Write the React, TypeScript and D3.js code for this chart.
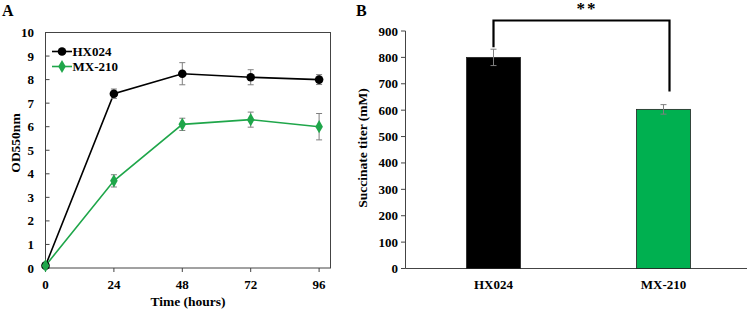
import React from "react";
import * as d3 from "d3";

const hours = [0, 24, 48, 72, 96];
const hxOD = [0.1, 7.4, 8.25, 8.1, 8.0];
const hxErr = [0.05, 0.2, 0.47, 0.32, 0.21];
const mxOD = [0.1, 3.7, 6.1, 6.3, 6.0];
const mxErr = [0.05, 0.26, 0.26, 0.32, 0.56];
const yTicksA = [0, 1, 2, 3, 4, 5, 6, 7, 8, 9, 10];

const strains = ["HX024", "MX-210"];
const titer = [800, 603];
const titerErr = [31, 18];
const yTicksB = [0, 100, 200, 300, 400, 500, 600, 700, 800, 900];

const BLACK = "#000000";
const GREEN = "#1FA64A";
const BARGREEN = "#00B050";
const FONT = "'Liberation Serif', 'Times New Roman', serif";

export default function App() {
  // Panel A
  const ax = d3.scaleLinear().domain([0, 100]).range([45.5, 330.5]);
  const ay = d3.scaleLinear().domain([0, 10]).range([268, 32.5]);
  const line = d3
    .line<number>()
    .x((_, i) => ax(hours[i]))
    .y((d) => ay(d));
  const diamond = d3.symbol().type(d3.symbolDiamond).size(50)();

  // Panel B
  const bx = d3.scaleBand().domain(strains).range([408.5, 748.5]).paddingInner(0).paddingOuter(0);
  const by = d3.scaleLinear().domain([0, 900]).range([268.5, 31]);
  const barW = 54;
  const colors = [BLACK, BARGREEN];
  const cx = (s: string) => (bx(s) as number) + bx.bandwidth() / 2;

  return (
    <svg width={750} height={312} style={{ display: "block", position: "absolute", left: 0, top: 0 }} fontFamily={FONT} fontWeight="bold">
      <rect width={750} height={312} fill="#fff" />
      {/* Panel A */}
      <text x={2} y={15.5} fontSize={16}>A</text>
      <rect x={ax(0)} y={ay(10)} width={ax(100) - ax(0)} height={ay(0) - ay(10)} fill="none" stroke="#444" strokeWidth={1} />
      {yTicksA.map((t) => (
        <g key={t}>
          <line x1={ax(0)} x2={ax(0) + 4} y1={ay(t)} y2={ay(t)} stroke="#444" />
          <text x={34} y={ay(t) + 4.5} fontSize={13} textAnchor="end">{t}</text>
        </g>
      ))}
      {hours.map((h) => (
        <g key={h}>
          <line x1={ax(h)} x2={ax(h)} y1={ay(0)} y2={ay(0) + 4} stroke="#444" />
          <text x={ax(h)} y={289} fontSize={13} textAnchor="middle">{h}</text>
        </g>
      ))}
      <text x={188} y={306} fontSize={13.5} textAnchor="middle">Time (hours)</text>
      <text transform={`translate(20,143) rotate(-90)`} fontSize={13.5} textAnchor="middle">OD550nm</text>

      <path d={line(hxOD) as string} fill="none" stroke={BLACK} strokeWidth={1.6} />
      <path d={line(mxOD) as string} fill="none" stroke={GREEN} strokeWidth={1.6} />
      {[
        { v: hxOD, e: hxErr },
        { v: mxOD, e: mxErr },
      ].map((s, si) =>
        s.v.map((v, i) => (
          <g key={`${si}-${i}`} stroke="#7f7f7f" strokeWidth={1}>
            <line x1={ax(hours[i])} x2={ax(hours[i])} y1={ay(v + s.e[i])} y2={ay(v - s.e[i])} />
            <line x1={ax(hours[i]) - 3} x2={ax(hours[i]) + 3} y1={ay(v + s.e[i])} y2={ay(v + s.e[i])} />
            <line x1={ax(hours[i]) - 3} x2={ax(hours[i]) + 3} y1={ay(v - s.e[i])} y2={ay(v - s.e[i])} />
          </g>
        ))
      )}
      {hxOD.map((v, i) => (
        <circle key={`h${i}`} cx={ax(hours[i])} cy={ay(v)} r={4.3} fill={BLACK} />
      ))}
      {mxOD.map((v, i) => (
        <path key={`m${i}`} d={diamond as string} transform={`translate(${ax(hours[i])},${ay(v)})`} fill={GREEN} />
      ))}
      {/* legend */}
      <line x1={52} x2={72} y1={51.5} y2={51.5} stroke={BLACK} strokeWidth={1.6} />
      <circle cx={62} cy={51.5} r={4.3} fill={BLACK} />
      <text x={72.5} y={56} fontSize={13}>HX024</text>
      <line x1={52} x2={72} y1={66.5} y2={66.5} stroke={GREEN} strokeWidth={1.6} />
      <path d={diamond as string} transform={`translate(62,66.5)`} fill={GREEN} />
      <text x={72.5} y={71} fontSize={13}>MX-210</text>

      {/* Panel B */}
      <text x={356} y={15.5} fontSize={16}>B</text>
      <line x1={405.5} x2={405.5} y1={by(900)} y2={by(0)} stroke="#444" />
      <line x1={405.5} x2={747} y1={by(0)} y2={by(0)} stroke="#444" />
      {yTicksB.map((t) => (
        <g key={t}>
          <line x1={401} x2={405.5} y1={by(t)} y2={by(t)} stroke="#444" />
          <text x={398} y={by(t) + 4.5} fontSize={13} textAnchor="end">{t}</text>
        </g>
      ))}
      <text transform={`translate(367,148) rotate(-90)`} fontSize={13.5} textAnchor="middle">Succinate titer (mM)</text>
      {strains.map((s, i) => (
        <g key={s}>
          <rect x={cx(s) - barW / 2} y={by(titer[i])} width={barW} height={by(0) - by(titer[i])} fill={colors[i]} stroke="#222" strokeWidth={0.8} />
          <g stroke="#7f7f7f" strokeWidth={1}>
            <line x1={cx(s)} x2={cx(s)} y1={by(titer[i] + titerErr[i])} y2={by(titer[i] - titerErr[i])} />
            <line x1={cx(s) - 3} x2={cx(s) + 3} y1={by(titer[i] + titerErr[i])} y2={by(titer[i] + titerErr[i])} />
            <line x1={cx(s) - 3} x2={cx(s) + 3} y1={by(titer[i] - titerErr[i])} y2={by(titer[i] - titerErr[i])} />
          </g>
          <text x={cx(s)} y={289} fontSize={13} textAnchor="middle">{s}</text>
        </g>
      ))}
      {/* significance bracket */}
      <path
        d={`M${cx("HX024")},${by(titer[0] + titerErr[0]) - 2} V20.5 H${cx("MX-210") + 6} V91.5`}
        fill="none"
        stroke={BLACK}
        strokeWidth={2.2}
      />
      <text x={587} y={13.5} fontSize={17} textAnchor="middle" letterSpacing={2}>**</text>
    </svg>
  );
}
